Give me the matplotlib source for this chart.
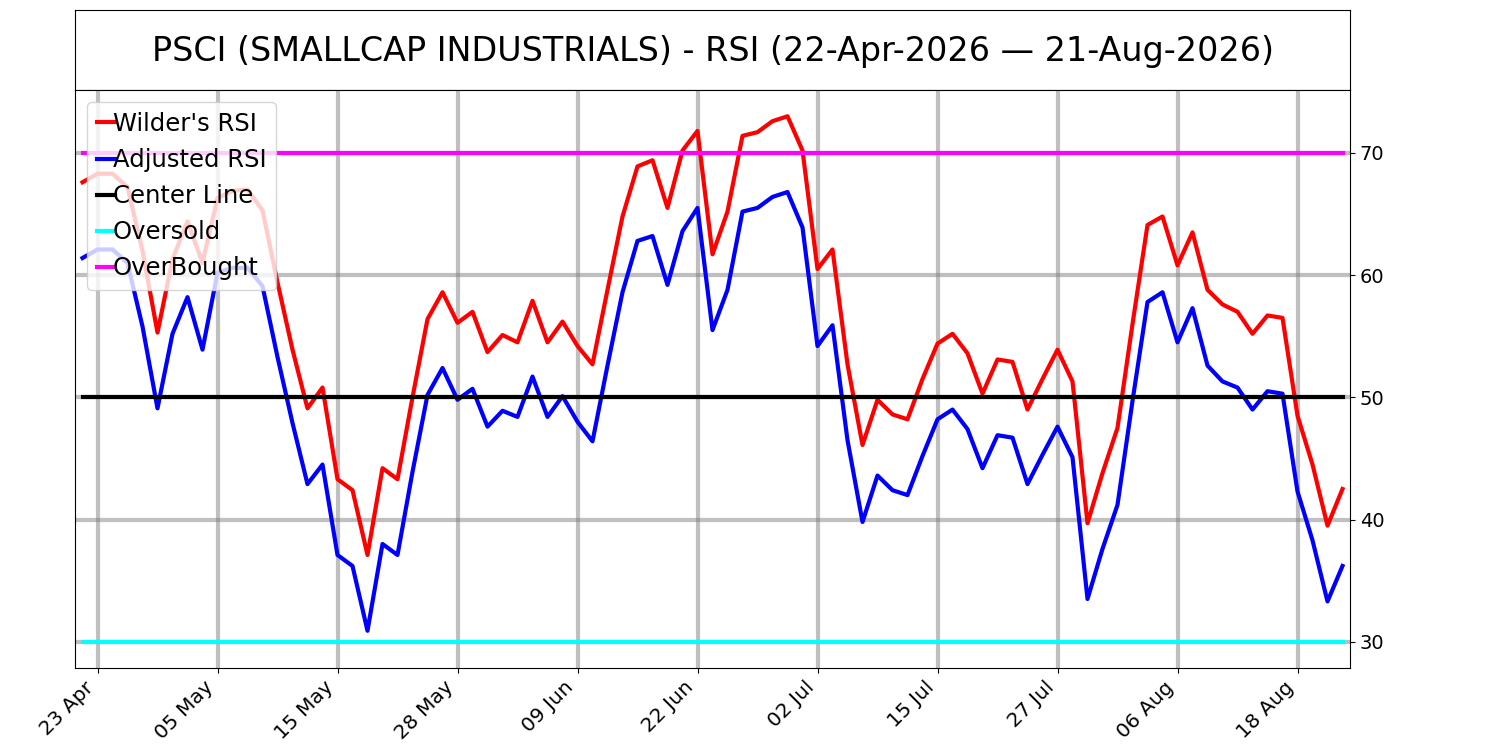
import numpy as np
import pandas as pd
import matplotlib
matplotlib.use("Agg")
import matplotlib.pyplot as plt

title = "PSCI (SMALLCAP INDUSTRIALS) - RSI (22-Apr-2026 \u2014 21-Aug-2026)"
holidays = ["2026-05-25", "2026-06-19", "2026-07-03"]
dates = pd.bdate_range("2026-04-22", "2026-08-21", freq="C", holidays=holidays)

wilders_rsi = [67.6, 68.3, 68.3, 67.2, 62.0, 55.3, 61.3, 64.4, 61.0, 66.3,
               66.9, 67.0, 65.3, 59.4, 53.9, 49.1, 50.8, 43.3, 42.4, 37.1,
               44.2, 43.3, 50.0, 56.4, 58.6, 56.1, 57.0, 53.7, 55.1, 54.5,
               57.9, 54.5, 56.2, 54.2, 52.7, 58.8, 64.8, 68.9, 69.4, 65.5,
               70.2, 71.8, 61.7, 65.2, 71.4, 71.7, 72.6, 73.0, 70.2, 60.5,
               62.1, 52.7, 46.1, 49.8, 48.6, 48.2, 51.5, 54.4, 55.2, 53.6,
               50.3, 53.1, 52.9, 49.0, 51.5, 53.9, 51.3, 39.7, 43.8, 47.5,
               56.0, 64.1, 64.8, 60.8, 63.5, 58.8, 57.6, 57.0, 55.2, 56.7,
               56.5, 48.5, 44.5, 39.5, 42.5]
adjusted_rsi = [61.4, 62.1, 62.1, 61.0, 55.8, 49.1, 55.2, 58.2, 53.9, 60.2,
                60.6, 60.6, 59.1, 53.3, 47.9, 42.9, 44.5, 37.1, 36.2, 30.9,
                38.0, 37.1, 43.9, 50.2, 52.4, 49.8, 50.7, 47.6, 48.9, 48.4,
                51.7, 48.4, 50.1, 48.0, 46.4, 52.6, 58.6, 62.8, 63.2, 59.2,
                63.6, 65.5, 55.5, 58.8, 65.2, 65.5, 66.4, 66.8, 63.9, 54.2,
                55.9, 46.5, 39.8, 43.6, 42.4, 42.0, 45.2, 48.2, 49.0, 47.4,
                44.2, 46.9, 46.7, 42.9, 45.3, 47.6, 45.1, 33.5, 37.6, 41.2,
                49.7, 57.8, 58.6, 54.5, 57.3, 52.6, 51.3, 50.8, 49.0, 50.5,
                50.3, 42.3, 38.3, 33.3, 36.2]
center_level = 50
oversold_level = 30
overbought_level = 70
tick_step = 8
tick_start = 1

n = len(wilders_rsi)
x = np.arange(n)

fig = plt.figure(figsize=(15, 7.5), dpi=100)
ax_t = fig.add_axes([0.05, 0.88, 0.85, 0.1067])
ax_t.set_xticks([])
ax_t.set_yticks([])
ax_t.text(0.5, 0.48, title, ha="center", va="center", fontsize=24, transform=ax_t.transAxes)

ax = fig.add_axes([0.05, 0.1093, 0.85, 0.7707])
lw = 3
ax.plot(x, wilders_rsi, color="red", lw=lw, label="Wilder's RSI")
ax.plot(x, adjusted_rsi, color="blue", lw=lw, label="Adjusted RSI")
ax.plot(x, np.full(n, center_level), color="black", lw=lw, label="Center Line")
ax.plot(x, np.full(n, oversold_level), color="cyan", lw=lw, label="Oversold")
ax.plot(x, np.full(n, overbought_level), color="magenta", lw=lw, label="OverBought")

ax.set_xlim(-0.5, n - 0.5)
ticks = list(range(tick_start, n, tick_step))
ax.set_xticks(ticks)
ax.set_xticklabels([dates[i].strftime("%d %b") for i in ticks], rotation=45, ha="right", fontsize=14.5)
ax.yaxis.tick_right()
ax.set_yticks([30, 40, 50, 60, 70])
ax.tick_params(axis="y", labelsize=14)
ax.grid(True, color="gray", alpha=0.5, lw=3)
ax.legend(loc="upper left", fontsize=17.5, handlelength=0.75, handletextpad=-0.1,
          labelspacing=0.5)

fig.savefig("out.png", dpi=100)
